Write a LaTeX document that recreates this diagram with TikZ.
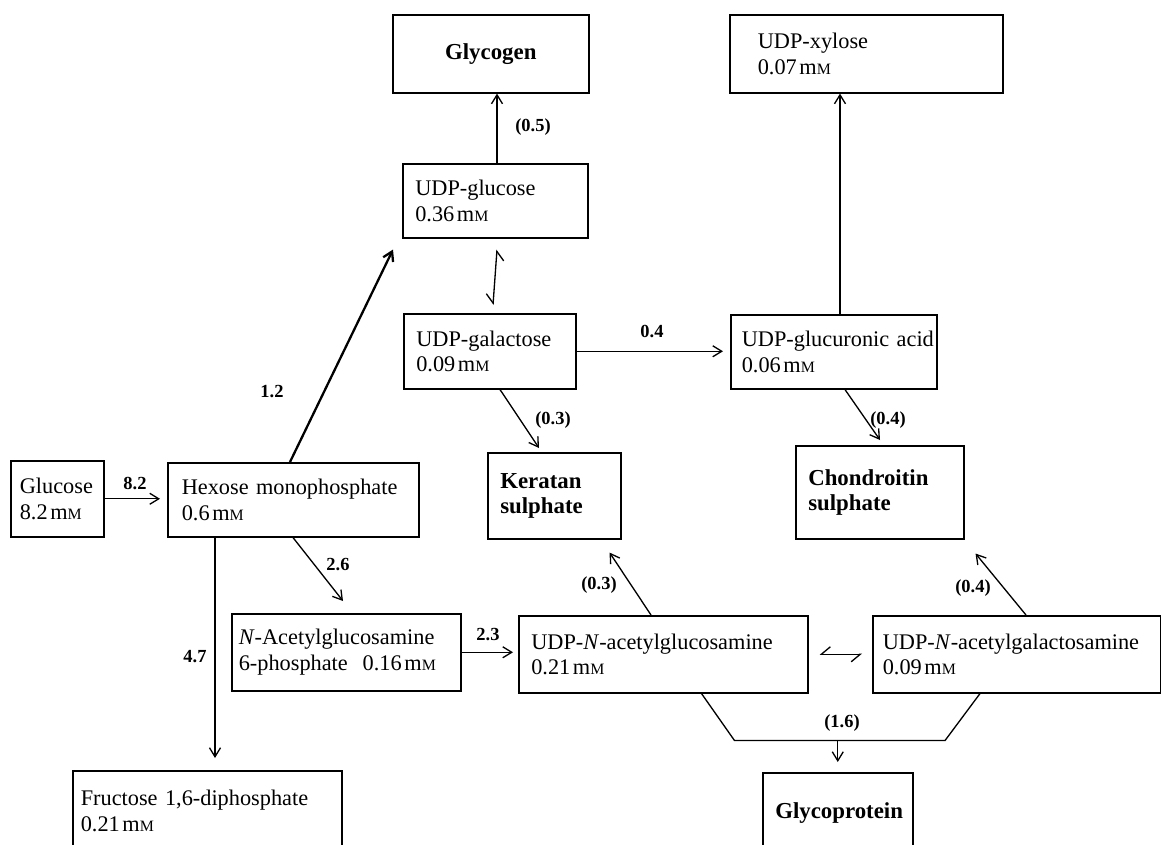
\documentclass[tikz,border=0pt]{standalone}
\usepackage{fontspec}
\setmainfont{Liberation Serif}
\usetikzlibrary{arrows.meta,calc}
\tikzset{
  cbox/.style ={draw=black, line width=0.9pt, anchor=north west, align=left,
                inner xsep=0.25cm, inner ysep=2pt, font=\fontsize{12.7}{14.5}\selectfont},
  pbox/.style ={cbox, font=\fontsize{13}{14.5}\selectfont\bfseries},
  flow/.style ={-{Straight Barb[length=1.8mm,width=2.2mm]}, line width=0.75pt},
  flowb/.style={flow, line width=1.3pt},
  eqm/.style  ={{Straight Barb[right,length=1.8mm,width=3mm]}-{Straight Barb[right,length=1.8mm,width=3mm]},
                line width=0.75pt},
  link/.style ={line width=0.75pt},
  rate/.style ={font=\fontsize{10.5}{11}\selectfont\bfseries, inner sep=1pt},
}
\newcommand{\mM}{\kern1.5pt m{\fontsize{9}{10}\selectfont M}}

\begin{document}
\begin{tikzpicture}[x=0.02cm, y=-0.02cm]
  \path[use as bounding box, fill=white] (0,0) rectangle (1161,845);

  % compounds
  \node[pbox, align=center, text width=3.42cm, minimum height=1.56cm] (glycogen) at (392,14) {Glycogen};
  \node[cbox, inner xsep=0.56cm, text width=4.34cm, minimum height=1.56cm] (udpxyl) at (729,14) {UDP-xylose\\0.07\mM};
  \node[cbox, text width=3.20cm, minimum height=1.48cm] (udpglc) at (402,163) {UDP-glucose\\0.36\mM};
  \node[cbox, text width=2.94cm, minimum height=1.50cm] (udpgal) at (403,313) {UDP-galactose\\0.09\mM};
  \node[cbox, inner xsep=0.22cm, text width=3.68cm, minimum height=1.48cm] (udpgca) at (730,314) {\mbox{UDP-glucuronic acid}\\0.06\mM};
  \node[pbox, text width=2.16cm, minimum height=1.72cm] (keratan) at (487,452) {Keratan\\sulphate};
  \node[pbox, text width=2.86cm, minimum height=1.86cm] (chondr) at (795,445) {Chondroitin\\sulphate};
  \node[cbox, inner xsep=0.18cm, text width=1.50cm, minimum height=1.52cm] (glucose) at (10,460) {Glucose\\8.2\mM};
  \node[cbox, inner xsep=0.28cm, text width=4.46cm, minimum height=1.48cm] (hexmp) at (167,462) {Hexose monophosphate\\0.6\mM};
  \node[cbox, inner xsep=0.14cm, text width=4.30cm, minimum height=1.54cm] (nacg6p) at (231,613) {\textit{N}-Acetylglucosamine\\6-phosphate\ \ 0.16\mM};
  \node[cbox, text width=5.28cm, minimum height=1.54cm] (udpnag) at (518,615) {UDP-\textit{N}-acetylglucosamine\\0.21\mM};
  \node[cbox, inner xsep=0.2cm, text width=5.36cm, minimum height=1.54cm] (udpnagal) at (872,615) {\mbox{UDP-\textit{N}-acetylgalactosamine}\\0.09\mM};
  \node[cbox, inner xsep=0.16cm, text width=5.06cm, minimum height=1.6cm] (fru) at (72,770) {Fructose 1,6-diphosphate\\0.21\mM};
  \node[pbox, align=center, text width=2.5cm, minimum height=1.6cm] (glyprot) at (762,772) {Glycoprotein};

  % fluxes
  \node[rate] (r82) at (135,483) {8.2};
  \node[rate] (r12) at (272,392) {1.2};
  \node[rate] (r05) at (533,127) {(0.5)};
  \node[rate] (r04a) at (652,331) {0.4};
  \node[rate] (r03a) at (553,420) {(0.3)};
  \node[rate] (r04b) at (888,420) {(0.4)};
  \node[rate] (r26) at (338,565) {2.6};
  \node[rate] (r47) at (195,657) {4.7};
  \node[rate] (r23) at (488,635) {2.3};
  \node[rate] (r03b) at (599,585) {(0.3)};
  \node[rate] (r04c) at (973,588) {(0.4)};
  \node[rate] (r16) at (842,723) {(1.6)};

  % connectors
  \draw[flow, shorten >=1.4mm] (glucose.east) -- (glucose.east -| hexmp.west);
  \draw[flowb] ($(hexmp.north west)+(123,0)$) -- ($(udpglc.south west)+(-9,11)$);
  \draw[flow] ($(udpglc.north west)+(95,0)$) coordinate (g1) -- (g1 |- glycogen.south);
  \draw[eqm] ($(udpglc.south west)+(95,11)$) -- ($(udpgal.north west)+(90,-8)$);
  \draw[flow, shorten >=1.4mm] (udpgal.east) -- (udpgal.east -| udpgca.west);
  \draw[flow] ($(udpgca.north west)+(110,0)$) coordinate (g2) -- (g2 |- udpxyl.south);
  \draw[flow] ($(udpgal.south west)+(97,0)$) -- ($(keratan.north west)+(52,-4)$);
  \draw[flow] ($(udpgca.south west)+(115,0)$) -- ($(chondr.north west)+(85,-5)$);
  \draw[flow] ($(hexmp.south west)+(126,0)$) -- ($(nacg6p.north west)+(112,-12)$);
  \draw[flow, shorten >=2.4mm] ($(hexmp.south west)+(48,0)$) coordinate (g3) -- (g3 |- fru.north);
  \draw[flow, shorten >=1mm] (nacg6p.east) -- (nacg6p.east -| udpnag.west);
  \draw[flow] ($(udpnag.north west)+(133,0)$) -- ($(keratan.south east)+(-12,13)$);
  \draw[flow] ($(udpnagal.north west)+(154,0)$) -- ($(chondr.south east)+(11,14)$);
  \draw[eqm] ($(udpnag.east)+(11,0)$) -- ($(udpnagal.west)+(-10,0)$);
  \draw[link] ($(udpnag.south east)+(-107,0)$) -- ++(33,47) coordinate (gl)
    -- ($(udpnagal.south west)+(73,47)$) -- ($(udpnagal.south west)+(108,0)$);
  \draw[flow, shorten >=2mm] (gl -| glyprot.north) -- (glyprot.north);
\end{tikzpicture}
\end{document}
